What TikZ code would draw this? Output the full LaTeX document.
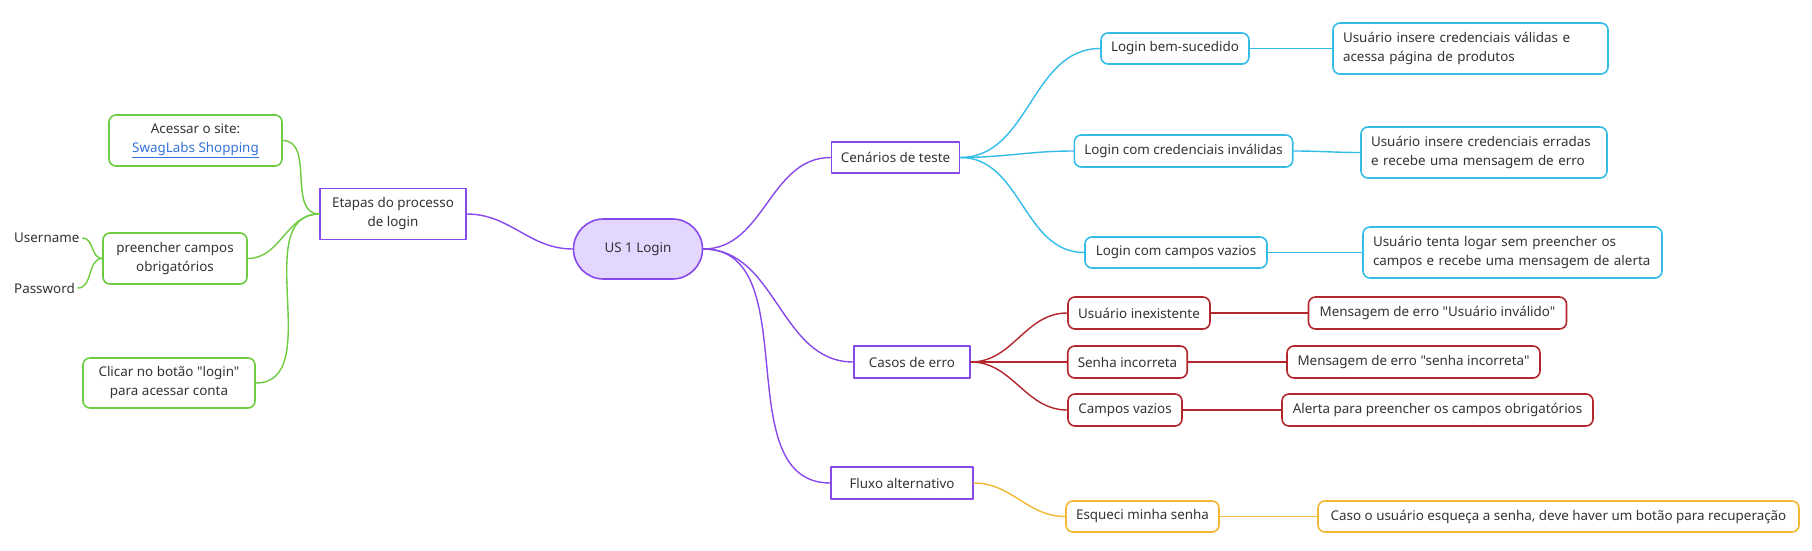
\documentclass[tikz,border=0pt]{standalone}
\usepackage{fontspec}
\setmainfont{Noto Sans}[Ligatures=TeXOff]
\definecolor{roxo}{HTML}{8749EC}
\definecolor{lilas}{HTML}{E3D6FF}
\definecolor{verde}{HTML}{6CCB3F}
\definecolor{ciano}{HTML}{33BDE6}
\definecolor{vinho}{HTML}{B3262C}
\definecolor{ouro}{HTML}{F2B733}
\definecolor{texto}{HTML}{333333}
\definecolor{link}{HTML}{3471D9}
\begin{document}
\begin{tikzpicture}[x=1pt,y=-1pt,font=\fontsize{13.4}{19}\selectfont, line join=round, line cap=round,
	caixa/.style={draw=roxo,line width=1.6pt,text=texto,inner sep=0pt,minimum height=32,align=center},
	folha/.style={draw=#1,line width=1.6pt,rounded corners=7pt,text=texto,inner xsep=10pt,inner ysep=0pt,minimum height=32,align=center},
	liga/.style={draw=#1,line width=1.4pt}]
	\useasboundingbox (0,0) rectangle (1812,551);
	
	%Raiz
	\node[caixa,fill=lilas,rounded corners=30pt,minimum width=129,minimum height=60] (raiz) at (638,249) {US 1 Login};
	
	%Ramo esquerdo
	\node[caixa,minimum width=146,minimum height=51] (etapas) at (393,214) {Etapas do processo\\de login};
	\node[folha=verde,minimum width=173,minimum height=51] (acessar) at (195.5,140.5) {Acessar o site:\\{\color{link}\underline{SwagLabs Shopping}}};
	\node[folha=verde,minimum width=144,minimum height=51] (preencher) at (175,258.5) {preencher campos\\obrigatórios};
	\node[folha=verde,minimum width=172,minimum height=50] (clicar) at (169,383) {Clicar no botão "login"\\para acessar conta};
	\node[text=texto,anchor=west,inner sep=3pt] (usuario) at (11,238) {Username};
	\node[text=texto,anchor=west,inner sep=3pt] (senhacampo) at (11,288) {Password};
	
	\draw[liga=roxo] (etapas.east) to[out=0,in=180] (raiz.west);
	\foreach \f in {acessar,preencher,clicar}
	\draw[liga=verde] (etapas.west) to[out=180,in=0] (\f.east);
	\foreach \f in {usuario,senhacampo}
	\draw[liga=verde] (preencher.west) to[out=180,in=0] (\f.east);
	
	%Ramo direito
	\node[caixa,minimum width=128,minimum height=31] (cenarios) at (895.5,157.5) {Cenários de teste};
	\node[caixa,minimum width=116] (casos) at (912,362) {Casos de erro};
	\node[caixa,minimum width=142] (fluxo) at (902,483) {Fluxo alternativo};
	
	\foreach \f in {cenarios,casos,fluxo}
	\draw[liga=roxo] (raiz.east) to[out=0,in=180] (\f.west);
	
	%Cenarios de teste
	\node[folha=ciano,minimum width=146,minimum height=31] (sucesso) at (1175,48.5) {Login bem-sucedido};
	\node[folha=ciano,minimum width=217] (invalidas) at (1183.5,151) {Login com credenciais inválidas};
	\node[folha=ciano,minimum width=182,minimum height=31] (vazios) at (1176,252.5) {Login com campos vazios};
	\node[folha=ciano,text width=255,minimum height=51,align=left] (validas) at (1470.5,48.5) {Usuário insere credenciais válidas e\\acessa página de produtos};
	\node[folha=ciano,text width=226,minimum height=51,align=left] (erradas) at (1484,152.5) {Usuário insere credenciais erradas\\e recebe uma mensagem de erro};
	\node[folha=ciano,text width=279,minimum height=51,align=left] (alerta) at (1512.5,252.5) {Usuário tenta logar sem preencher os\\campos e recebe uma mensagem de alerta};
	
	%Casos de erro
	\node[folha=vinho,minimum width=142] (inexistente) at (1139,313) {Usuário inexistente};
	\node[folha=vinho,minimum width=119] (incorreta) at (1127.5,362) {Senha incorreta};
	\node[folha=vinho,minimum width=114] (camposv) at (1125,410) {Campos vazios};
	\node[folha=vinho,minimum width=258] (msgusuario) at (1437.5,313) {Mensagem de erro "Usuário inválido"};
	\node[folha=vinho,minimum width=253] (msgsenha) at (1413.5,362) {Mensagem de erro "senha incorreta"};
	\node[folha=vinho,minimum width=311] (obrig) at (1437.5,410) {Alerta para preencher os campos obrigatórios};
	
	%Fluxo alternativo
	\node[folha=ouro,minimum width=153,minimum height=31] (esqueci) at (1142.5,516.5) {Esqueci minha senha};
	\node[folha=ouro,minimum width=481,minimum height=31] (recupera) at (1558.5,516.5) {Caso o usuário esqueça a senha, deve haver um botão para recuperação};
	
	\foreach \a/\b in {cenarios/sucesso,cenarios/invalidas,cenarios/vazios,sucesso/validas,invalidas/erradas,vazios/alerta}
	\draw[liga=ciano] (\a.east) to[out=0,in=180] (\b.west);
	\foreach \a/\b in {casos/inexistente,casos/incorreta,casos/camposv,inexistente/msgusuario,incorreta/msgsenha,camposv/obrig}
	\draw[liga=vinho] (\a.east) to[out=0,in=180] (\b.west);
	\foreach \a/\b in {fluxo/esqueci,esqueci/recupera}
	\draw[liga=ouro] (\a.east) to[out=0,in=180] (\b.west);
\end{tikzpicture}
\end{document}
